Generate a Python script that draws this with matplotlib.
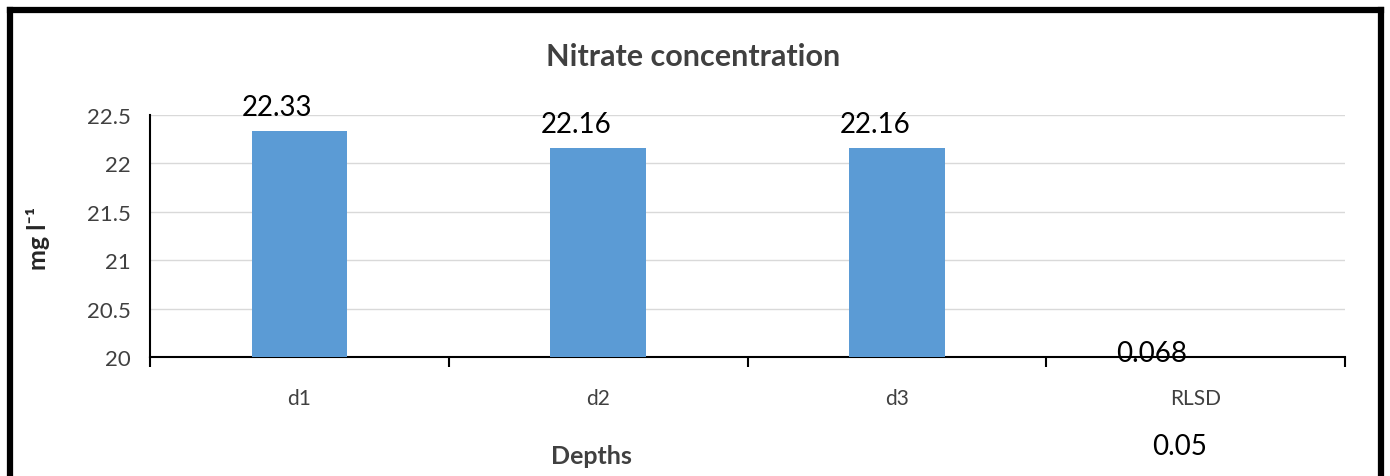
import matplotlib.pyplot as plt
from matplotlib.lines import Line2D
import numpy as np

# data
depths = ['d1', 'd2', 'd3', 'RLSD']
nitrate = [22.33, 22.16, 22.16, 0.068]
value_labels = ['22.33', '22.16', '22.16', '0.068']
rlsd_note = '0.05'

plt.rcParams['font.family'] = ['Lato', 'DejaVu Sans']

fig = plt.figure(figsize=(13.9, 4.77), dpi=100)
ax = fig.add_axes([150/1390, 119/477, 1195/1390, 242/477])

x = np.arange(len(depths))
ax.bar(x, nitrate, width=0.32, color='#5B9BD5', zorder=3)

ax.set_ylim(20, 22.5)
ax.set_xlim(-0.5, 3.5)
ax.set_yticks(np.arange(20, 22.51, 0.5))
ax.set_yticklabels(['20', '20.5', '21', '21.5', '22', '22.5'])
ax.set_xticks(x)
ax.set_xticklabels(depths)
ax.set_xticks(np.arange(-0.5, 3.6, 1), minor=True)
ax.tick_params(axis='x', which='major', length=0, pad=22, labelsize=15, labelcolor='#404040')
ax.tick_params(axis='x', which='minor', length=7, width=1.5, direction='out', color='black')
ax.tick_params(axis='y', length=0, pad=14, labelsize=16, labelcolor='#404040')

ax.grid(axis='y', color='#D9D9D9', linewidth=1, zorder=0)
for s in ['top', 'right']:
    ax.spines[s].set_visible(False)
ax.spines['left'].set_linewidth(1.5)
ax.spines['bottom'].set_linewidth(1.5)

# data labels
for i, (v, lab) in enumerate(zip(nitrate, value_labels)):
    if v >= 20:
        ax.annotate(lab, (i, v), xytext=(-22, 16), textcoords='offset pixels',
                    ha='center', va='baseline', fontsize=20, color='black')
    else:
        ax.annotate(lab, (i, 20), xytext=(-44, -4), textcoords='offset pixels',
                    ha='center', va='baseline', fontsize=20, color='black',
                    annotation_clip=False)

fig.text(693/1390, 1 - 57/477, 'Nitrate concentration', ha='center', va='center',
         fontsize=22, fontweight='bold', color='#404040')
fig.text(591/1390, 1 - 457/477, 'Depths', ha='center', va='center',
         fontsize=18, fontweight='bold', color='#404040')
fig.text(38/1390, 1 - 238/477, 'mg l⁻¹', ha='center', va='center', rotation=90,
         fontsize=18, fontweight='bold', color='#262626')
fig.text(1180/1390, 1 - 447/477, rlsd_note, ha='center', va='center',
         fontsize=20, color='black')

# frame around the chart
for xs, ys in [([10, 10], [477, 11]), ([10, 1381], [11, 11]), ([1381, 1381], [11, 477])]:
    fig.add_artist(Line2D([a/1390 for a in xs], [1 - b/477 for b in ys],
                          color='black', linewidth=4.5, solid_capstyle='projecting'))

fig.savefig('out.png', dpi=100)
